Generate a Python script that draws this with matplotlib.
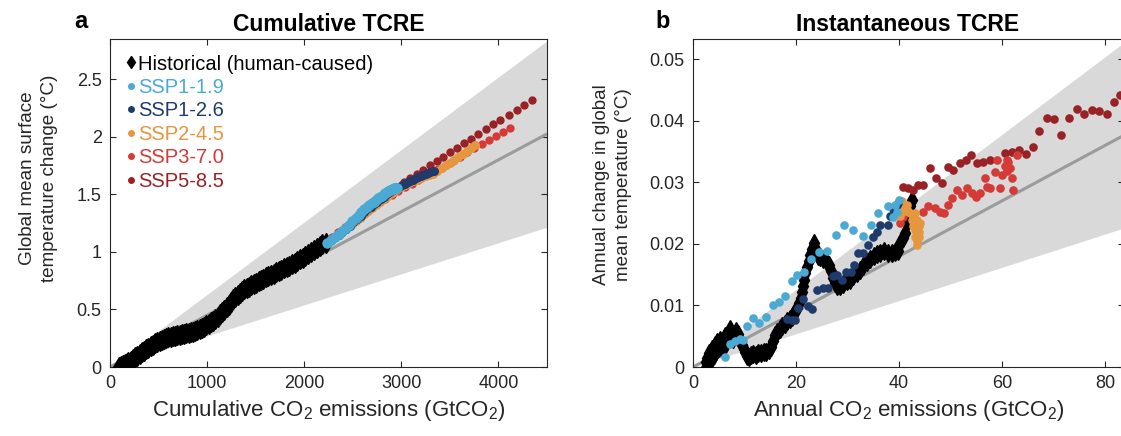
import matplotlib
matplotlib.use("Agg")
import matplotlib.pyplot as plt
from matplotlib.lines import Line2D
import numpy as np

plt.rcParams['font.family'] = ['Liberation Sans', 'DejaVu Sans']
plt.rcParams['mathtext.default'] = 'regular'

# ---------------- data ----------------
tcre_low, tcre_best, tcre_high = 0.27, 0.45, 0.63   # degC per 1000 GtCO2

# Panel a: cumulative emissions (GtCO2) vs warming (degC)
hist_cum_x = [92, 110, 130, 150, 170, 190, 212, 235, 258, 281, 304, 327, 349, 372, 395, 418, 441, 464,
              487, 510, 533, 556, 579, 602, 625, 648, 671, 694, 717, 740, 763, 786, 809, 832, 855, 878,
              901, 924, 947, 970, 993, 1016, 1039, 1062, 1085, 1108, 1131, 1154, 1177, 1200, 1223, 1246,
              1269, 1292, 1315, 1338, 1361, 1384, 1407, 1430, 1455, 1480, 1505, 1530, 1555, 1580, 1606,
              1632, 1658, 1684, 1710, 1737, 1764, 1791, 1818, 1845, 1872, 1900, 1928, 1956, 1984, 2012,
              2041, 2070, 2099, 2128, 2158, 2188, 2225]
hist_cum_y = [0.000, 0.008, 0.018, 0.027, 0.036, 0.045, 0.055, 0.070, 0.084, 0.099, 0.113, 0.128, 0.142,
              0.155, 0.168, 0.181, 0.194, 0.205, 0.216, 0.226, 0.235, 0.244, 0.254, 0.260, 0.264, 0.268,
              0.272, 0.276, 0.280, 0.285, 0.290, 0.294, 0.298, 0.303, 0.307, 0.313, 0.321, 0.330, 0.338,
              0.348, 0.361, 0.374, 0.387, 0.401, 0.418, 0.438, 0.457, 0.477, 0.497, 0.520, 0.543, 0.566,
              0.588, 0.607, 0.625, 0.642, 0.660, 0.676, 0.686, 0.697, 0.709, 0.721, 0.734, 0.745, 0.756,
              0.766, 0.778, 0.789, 0.800, 0.811, 0.822, 0.833, 0.845, 0.856, 0.868, 0.879, 0.891, 0.904,
              0.919, 0.935, 0.951, 0.967, 0.983, 1.000, 1.016, 1.032, 1.049, 1.066, 1.075]

ssp119_cum_x = [2236, 2277, 2317, 2356, 2393, 2429, 2464, 2497, 2529, 2560, 2589, 2617, 2644, 2670, 2694,
                2717, 2739, 2760, 2780, 2799, 2817, 2834, 2850, 2865, 2879, 2892, 2904, 2915, 2925, 2934,
                2942, 2949, 2955]
ssp119_cum_y = [1.075, 1.103, 1.131, 1.158, 1.184, 1.210, 1.238, 1.266, 1.294, 1.321, 1.346, 1.369, 1.388,
                1.406, 1.422, 1.437, 1.452, 1.466, 1.478, 1.489, 1.499, 1.509, 1.518, 1.526, 1.534, 1.540,
                1.545, 1.549, 1.552, 1.554, 1.555, 1.556, 1.556]

ssp126_cum_x = [2236, 2276, 2316, 2355, 2394, 2432, 2470, 2507, 2544, 2580, 2616, 2651, 2686, 2720, 2754,
                2787, 2820, 2852, 2884, 2915, 2946, 2976, 3006, 3035, 3064, 3092, 3120, 3147, 3174, 3200,
                3226, 3251, 3276, 3300, 3324, 3336]
ssp126_cum_y = [1.075, 1.100, 1.126, 1.151, 1.176, 1.201, 1.228, 1.256, 1.285, 1.316, 1.345, 1.370, 1.393,
                1.415, 1.436, 1.459, 1.481, 1.501, 1.520, 1.538, 1.553, 1.567, 1.580, 1.592, 1.604, 1.616,
                1.627, 1.638, 1.649, 1.660, 1.669, 1.678, 1.686, 1.694, 1.701, 1.705]

ssp245_cum_x = [2236, 2278, 2320, 2362, 2404, 2446, 2488, 2530, 2572, 2614, 2656, 2698, 2740, 2782, 2824,
                2866, 2908, 2950, 2992, 3034, 3076, 3118, 3160, 3202, 3244, 3286, 3329, 3372, 3415, 3458,
                3501, 3544, 3587, 3630, 3673, 3715, 3757]
ssp245_cum_y = [1.075, 1.103, 1.131, 1.159, 1.187, 1.215, 1.242, 1.270, 1.298, 1.326, 1.354, 1.382, 1.410,
                1.437, 1.464, 1.490, 1.514, 1.538, 1.560, 1.580, 1.598, 1.614, 1.629, 1.643, 1.657, 1.668,
                1.680, 1.704, 1.728, 1.752, 1.776, 1.800, 1.824, 1.849, 1.876, 1.903, 1.930]

ssp370_cum_x = [2240, 2285, 2352, 2421, 2490, 2558, 2627, 2696, 2764, 2833, 2901, 2969, 3038, 3107, 3175,
                3244, 3312, 3380, 3456, 3528, 3603, 3678, 3750, 3826, 3901, 3973, 4042, 4117]
ssp370_cum_y = [1.090, 1.130, 1.174, 1.217, 1.261, 1.304, 1.348, 1.386, 1.421, 1.459, 1.493, 1.528, 1.561,
                1.592, 1.624, 1.656, 1.691, 1.723, 1.758, 1.792, 1.828, 1.866, 1.900, 1.938, 1.973, 2.011,
                2.045, 2.080]

ssp585_cum_x = [2236, 2281, 2327, 2374, 2422, 2471, 2521, 2572, 2624, 2677, 2731, 2786, 2842, 2899, 2957,
                3028, 3089, 3158, 3226, 3295, 3364, 3432, 3500, 3569, 3644, 3716, 3792, 3867, 3946, 4021,
                4104, 4186, 4265, 4347]
ssp585_cum_y = [1.075, 1.105, 1.136, 1.167, 1.199, 1.232, 1.267, 1.302, 1.338, 1.375, 1.413, 1.451, 1.488,
                1.525, 1.563, 1.609, 1.639, 1.676, 1.711, 1.752, 1.790, 1.828, 1.866, 1.906, 1.944, 1.984,
                2.025, 2.066, 2.110, 2.147, 2.191, 2.235, 2.278, 2.316]

# Panel b: annual emissions (GtCO2) vs annual warming (degC)
hist_ann_x = [2.3, 2.5, 2.8, 3.0, 3.2, 3.5, 3.7, 4.0, 4.2, 4.4, 4.7, 5.0, 5.2, 5.5, 5.8, 6.0, 6.3, 6.6,
              6.9, 7.2, 7.5, 7.8, 8.1, 8.4, 8.7, 9.0, 9.3, 9.6, 9.9, 10.1,
              10.4, 10.8, 11.2, 11.7, 12.2, 12.7, 13.2, 13.7, 14.2, 14.7, 15.1, 15.5, 15.9, 16.3, 16.8,
              17.3, 17.8, 18.3, 18.8, 19.3, 19.7, 20.1, 20.5, 20.9, 21.2, 21.4, 21.5, 21.8, 22.1, 22.5,
              22.8, 23.1, 23.4, 23.8, 24.2, 24.7, 25.3, 25.9, 26.4, 26.8, 27.1, 27.5, 28.0, 28.5, 29.2,
              29.9, 30.5, 31.1, 31.8, 32.4, 33.1, 33.8, 34.4, 35.1, 35.7, 36.3, 37.0, 37.8, 38.6, 39.3,
              39.9, 40.2, 40.7, 41.2, 41.5, 41.8, 42.1, 42.5]
hist_ann_y = [-0.0003, 0.0008, 0.0015, 0.0005, 0.0022, 0.0012, 0.0030, 0.0020, 0.0035, 0.0026, 0.0040,
              0.0031, 0.0044, 0.0036, 0.0030, 0.0042, 0.0050, 0.0047, 0.0055, 0.0062, 0.0052, 0.0045,
              0.0050, 0.0058, 0.0054, 0.0046, 0.0040, 0.0035, 0.0030, 0.0024,
              0.0018, 0.0016, 0.0019, 0.0021, 0.0020, 0.0023, 0.0022, 0.0025, 0.0024, 0.0027, 0.0033,
              0.0043, 0.0052, 0.0057, 0.0061, 0.0066, 0.0070, 0.0074, 0.0078, 0.0082, 0.0088, 0.0096,
              0.0104, 0.0112, 0.0122, 0.0132, 0.0142, 0.0152, 0.0162, 0.0172, 0.0182, 0.0192, 0.0202,
              0.0190, 0.0180, 0.0178, 0.0176, 0.0173, 0.0166, 0.0156, 0.0145, 0.0136, 0.0131, 0.0131,
              0.0135, 0.0139, 0.0142, 0.0148, 0.0153, 0.0158, 0.0164, 0.0170, 0.0175, 0.0180, 0.0184,
              0.0185, 0.0188, 0.0186, 0.0185, 0.0187, 0.0188, 0.0202, 0.0210, 0.0218, 0.0234, 0.0250,
              0.0262, 0.0272]

ssp119_ann_x = [6.2, 7.2, 8.2, 9.1, 9.7, 10.5, 11.7, 12.8, 14.2, 15.5, 16.7, 17.9, 19.2, 20.2, 21.6,
                22.9, 24.5, 26.0, 27.8, 29.3, 31.1, 33.0, 34.6, 35.9, 37.9, 38.8, 39.2, 39.6, 40.0]
ssp119_ann_y = [0.0017, 0.0037, 0.0043, 0.0046, 0.0044, 0.0066, 0.0079, 0.0072, 0.0082, 0.0100, 0.0106,
                0.0115, 0.0139, 0.0149, 0.0155, 0.0175, 0.0187, 0.0189, 0.0215, 0.0230, 0.0223, 0.0213,
                0.0230, 0.0250, 0.0262, 0.0244, 0.0264, 0.0252, 0.0271]

ssp126_ann_x = [18.2, 19.2, 19.8, 20.4, 21.4, 22.4, 23.2, 24.0, 25.2, 26.3, 27.2, 27.9, 28.9, 29.7, 30.6,
                31.3, 32.1, 33.1, 34.0, 34.9, 35.7, 36.3, 37.9, 38.3, 38.9, 39.6, 39.8]
ssp126_ann_y = [0.0078, 0.0077, 0.0076, 0.0096, 0.0110, 0.0099, 0.0094, 0.0125, 0.0129, 0.0129, 0.0148,
                0.0150, 0.0142, 0.0154, 0.0154, 0.0166, 0.0185, 0.0185, 0.0199, 0.0211, 0.0220, 0.0231,
                0.0231, 0.0245, 0.0256, 0.0264, 0.0267]

ssp245_ann_x = [40.2, 40.5, 40.8, 41.2, 41.5, 41.8, 42.1, 42.5, 42.8, 43.1, 43.4, 43.8, 43.1, 43.4, 43.8,
                43.1, 43.4, 43.8, 44.1, 43.4]
ssp245_ann_y = [0.0245, 0.0269, 0.0261, 0.0253, 0.0264, 0.0253, 0.0250, 0.0239, 0.0229, 0.0250, 0.0239,
                0.0229, 0.0223, 0.0218, 0.0220, 0.0212, 0.0204, 0.0212, 0.0234, 0.0198]

ssp370_ann_x = [40.2, 40.8, 44.7, 45.6, 47.0, 48.0, 48.7, 49.5, 50.3, 51.3, 52.2, 53.2, 54.2, 55.0, 55.7,
                56.7, 57.1, 57.7, 58.6, 59.0, 59.6, 60.0, 60.6, 61.0, 61.2, 61.6, 61.0, 61.9, 62.1, 62.9]
ssp370_ann_y = [0.0234, 0.0243, 0.0252, 0.0262, 0.0259, 0.0252, 0.0251, 0.0264, 0.0275, 0.0288, 0.0280,
                0.0291, 0.0283, 0.0277, 0.0283, 0.0307, 0.0293, 0.0291, 0.0317, 0.0336, 0.0291, 0.0312,
                0.0327, 0.0319, 0.0333, 0.0324, 0.0337, 0.0307, 0.0288, 0.0345]

ssp585_ann_x = [40.8, 41.7, 42.7, 43.7, 44.7, 46.0, 47.2, 48.3, 49.5, 50.5, 51.8, 53.0, 54.0, 55.1, 56.3,
                57.7, 60.6, 61.9, 63.3, 64.7, 66.0, 67.2, 68.7, 70.1, 71.5, 73.0, 74.6, 75.9, 77.5, 78.8,
                80.4, 81.7, 82.9]
ssp585_ann_y = [0.0293, 0.0291, 0.0288, 0.0296, 0.0296, 0.0324, 0.0307, 0.0299, 0.0325, 0.0320, 0.0332,
                0.0337, 0.0345, 0.0332, 0.0333, 0.0337, 0.0348, 0.0350, 0.0353, 0.0346, 0.0358, 0.0384,
                0.0405, 0.0403, 0.0377, 0.0405, 0.0419, 0.0411, 0.0418, 0.0416, 0.0411, 0.0430, 0.0442]

labels = ['Historical (human-caused)', 'SSP1-1.9', 'SSP1-2.6', 'SSP2-4.5', 'SSP3-7.0', 'SSP5-8.5']
colors = ['#000000', '#4aaad4', '#1f3b6c', '#e5973f', '#d43a36', '#992226']

# ---------------- figure ----------------
W, H = 1121, 436
fig = plt.figure(figsize=(W / 100, H / 100), dpi=100)

def px_axes(l, t, r, b):
    return fig.add_axes([l / W, 1 - b / H, (r - l) / W, (b - t) / H])

AL, AR = 110, 547
BL, BR = 693, 1124
axa = px_axes(AL, 39, AR, 367)
axb = px_axes(BL, 39, BR, 367)

tick_col = '#262626'
for ax in (axa, axb):
    ax.tick_params(direction='in', top=True, right=True, length=4, width=0.8,
                   colors=tick_col, labelsize=13, pad=6)
    for s in ax.spines.values():
        s.set_color('#262626')
        s.set_linewidth(0.8)

# ---- panel a ----
xa_max = 4500
xg = np.array([0, xa_max])
axa.fill_between(xg, xg * tcre_low / 1000, xg * tcre_high / 1000, color='#d9d9d9', lw=0, zorder=1)
axa.plot(xg, xg * tcre_best / 1000, color='#9b9b9b', lw=2.2, zorder=2, solid_capstyle='butt')

axa.plot(hist_cum_x, hist_cum_y, ls='none', marker='d', ms=10, color='k', mec='k', zorder=3)
cum_series = [(ssp585_cum_x, ssp585_cum_y, colors[5], 6.0),
              (ssp370_cum_x, ssp370_cum_y, colors[4], 6.0),
              (ssp245_cum_x, ssp245_cum_y, colors[3], 6.5),
              (ssp126_cum_x, ssp126_cum_y, colors[2], 6.5),
              (ssp119_cum_x, ssp119_cum_y, colors[1], 7.5)]
for i, (x, y, c, ms) in enumerate(cum_series):
    axa.plot(x, y, ls='none', marker='o', ms=ms, color=c, mec='none', zorder=4 + i)

axa.set_xlim(0, xa_max)
axa.set_ylim(0, 2.85)
axa.set_xticks([0, 1000, 2000, 3000, 4000])
axa.set_yticks([0, 0.5, 1, 1.5, 2, 2.5])
axa.set_yticklabels(['0', '0.5', '1', '1.5', '2', '2.5'])
axa.set_xlabel('Cumulative CO$_2$ emissions (GtCO$_2$)', fontsize=16, color=tick_col, labelpad=4)
axa.set_ylabel('Global mean surface\ntemperature change (°C)', fontsize=13.6, color=tick_col,
               linespacing=1.35)
axa.yaxis.set_label_coords((58 - AL) / (AR - AL), (367 - 178) / 328)

# ---- panel b ----
xb_max = (BR - BL) / 5.15
xg2 = np.array([0, xb_max])
axb.fill_between(xg2, xg2 * tcre_low / 1000, xg2 * tcre_high / 1000, color='#d9d9d9', lw=0, zorder=1)
axb.plot(xg2, xg2 * tcre_best / 1000, color='#9b9b9b', lw=2.2, zorder=2, solid_capstyle='butt')

axb.plot(hist_ann_x, hist_ann_y, ls='none', marker='d', ms=9, color='k', mec='k', zorder=3)
ann_series = [(ssp585_ann_x, ssp585_ann_y, colors[5]),
              (ssp370_ann_x, ssp370_ann_y, colors[4]),
              (ssp245_ann_x, ssp245_ann_y, colors[3]),
              (ssp126_ann_x, ssp126_ann_y, colors[2]),
              (ssp119_ann_x, ssp119_ann_y, colors[1])]
for i, (x, y, c) in enumerate(ann_series):
    axb.plot(x, y, ls='none', marker='o', ms=6.2, color=c, mec='none', zorder=4 + i)

axb.set_xlim(0, xb_max)
axb.set_ylim(0, 0.0533)
axb.set_xticks([0, 20, 40, 60, 80])
axb.set_yticks([0, 0.01, 0.02, 0.03, 0.04, 0.05])
axb.set_yticklabels(['0', '0.01', '0.02', '0.03', '0.04', '0.05'])
axb.set_xlabel('Annual CO$_2$ emissions (GtCO$_2$)', fontsize=16, color=tick_col, labelpad=4)
axb.set_ylabel('Annual change in global\nmean temperature (°C)', fontsize=13.6, color=tick_col,
               linespacing=1.35)
axb.yaxis.set_label_coords((632 - BL) / (BR - BL), (367 - 185) / 328)

# ---- legend (panel a) ----
handles = [Line2D([], [], ls='none', marker='d', ms=6, color='k')]
handles += [Line2D([], [], ls='none', marker='o', ms=5, color=c, mec='none') for c in colors[1:]]
axa.legend(handles, labels, loc='upper left', bbox_to_anchor=(0.03, 0.965), frameon=False,
           fontsize=14.5, handlelength=0.4, handletextpad=0.15, labelspacing=0.22,
           borderaxespad=0, borderpad=0.2, labelcolor=colors)

# ---- titles & panel letters ----
axa.set_title('Cumulative TCRE', fontsize=16.5, fontweight='bold', pad=6)
axb.set_title('Instantaneous TCRE', fontsize=16.5, fontweight='bold', pad=6,
              x=(908 - BL) / (BR - BL))
fig.text(81 / W, 1 - 22 / H, 'a', fontsize=17, fontweight='bold', ha='center', va='center')
fig.text(663 / W, 1 - 22 / H, 'b', fontsize=17, fontweight='bold', ha='center', va='center')

fig.savefig('out.png', dpi=100)
